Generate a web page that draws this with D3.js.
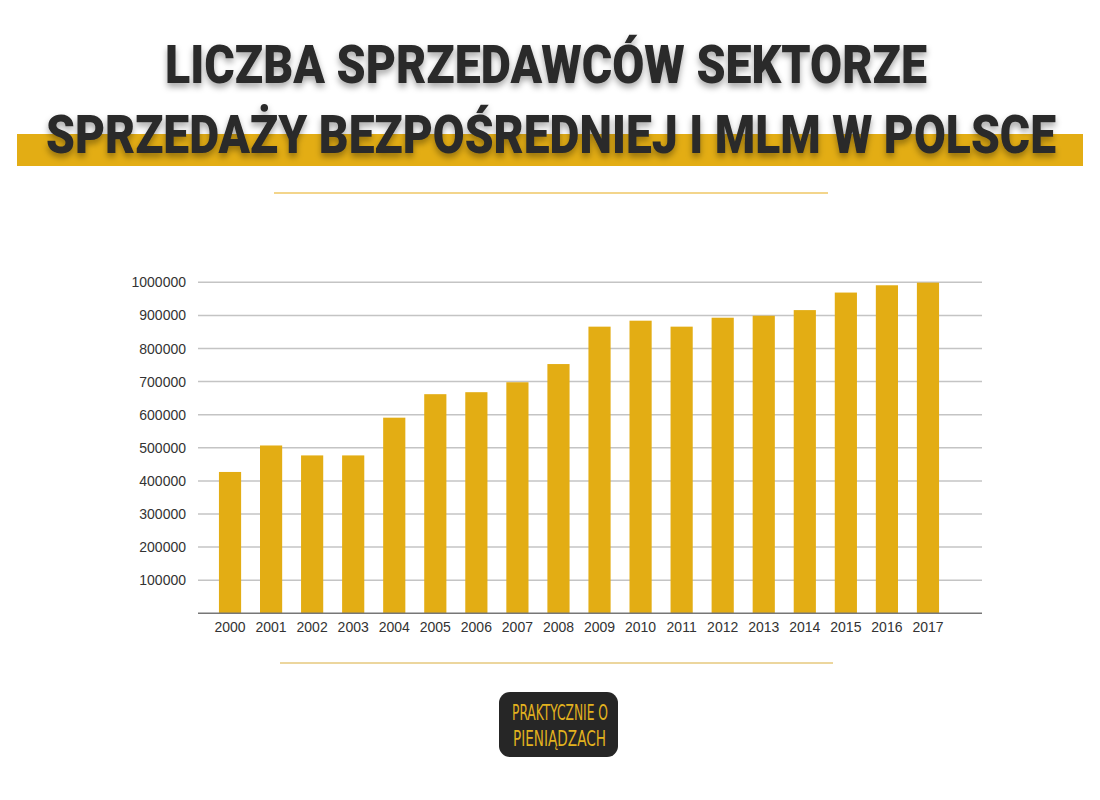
<!DOCTYPE html>
<html>
<head>
<meta charset="utf-8">
<script src="https://cdn.jsdelivr.net/npm/d3@7"></script>
<style>
  body { margin: 0; background: #fff; }
  svg { display: block; }
</style>
</head>
<body>
<div id="chart"></div>
<script>
const years = ['2000','2001','2002','2003','2004','2005','2006','2007','2008',
               '2009','2010','2011','2012','2013','2014','2015','2016','2017'];
const sellers = [427000, 507000, 477000, 477000, 591000, 662000, 668000, 698000, 753000,
                 866000, 884000, 866000, 893000, 899000, 916000, 969000, 991000, 999000];
const yTicks = [100000, 200000, 300000, 400000, 500000, 600000, 700000, 800000, 900000, 1000000];
const titleLines = ['LICZBA SPRZEDAWCÓW SEKTORZE', 'SPRZEDAŻY BEZPOŚREDNIEJ I MLM W POLSCE'];
const logoLines = ['PRAKTYCZNIE O', 'PIENIĄDZACH'];

const width = 1100, height = 800;
const gold = '#e3ad14';
const dark = '#2b2b2b';

const svg = d3.select('#chart').append('svg')
    .attr('width', width)
    .attr('height', height);

const defs = svg.append('defs');
const shadow = defs.append('filter')
    .attr('id', 'shadow')
    .attr('x', '-5%').attr('y', '-30%')
    .attr('width', '110%').attr('height', '170%');
shadow.append('feDropShadow')
    .attr('dx', 0).attr('dy', 4)
    .attr('stdDeviation', 3)
    .attr('flood-color', '#000')
    .attr('flood-opacity', 0.35);

// title band
svg.append('rect')
    .attr('x', 17).attr('y', 134)
    .attr('width', 1066).attr('height', 32)
    .attr('fill', gold);

const titleSpecs = [
    { x: 165, y: 83, w: 762 },
    { x: 46, y: 153, w: 1010 }
];
svg.selectAll('.title')
    .data(titleLines)
    .enter()
    .append('text')
    .attr('class', 'title')
    .attr('x', (d, i) => titleSpecs[i].x)
    .attr('y', (d, i) => titleSpecs[i].y)
    .attr('textLength', (d, i) => titleSpecs[i].w)
    .attr('lengthAdjust', 'spacingAndGlyphs')
    .attr('font-family', 'Roboto, "Liberation Sans", sans-serif')
    .attr('font-weight', 900)
    .attr('font-size', 54)
    .attr('fill', dark)
    .attr('filter', 'url(#shadow)')
    .text(d => d);

// separators
svg.append('line')
    .attr('x1', 274).attr('x2', 828)
    .attr('y1', 193).attr('y2', 193)
    .attr('stroke', '#efc765').attr('stroke-width', 1.5);

svg.append('line')
    .attr('x1', 280).attr('x2', 833)
    .attr('y1', 663).attr('y2', 663)
    .attr('stroke', '#d9ad3c').attr('stroke-width', 1);

// chart
const margin = { top: 282, right: 118, bottom: 187, left: 198 };
const plotRight = width - margin.right;

const xScale = d3.scaleBand()
    .domain(years)
    .range([209.5, 948.5])
    .paddingInner(0.46)
    .paddingOuter(0.23);

const yScale = d3.scaleLinear()
    .domain([0, 1000000])
    .range([613.3, 282.3]);

svg.append('g')
    .selectAll('line')
    .data(yTicks)
    .enter()
    .append('line')
    .attr('x1', margin.left)
    .attr('x2', plotRight)
    .attr('y1', d => yScale(d))
    .attr('y2', d => yScale(d))
    .attr('stroke', '#c4c4c4')
    .attr('stroke-width', 1.5);

svg.append('g')
    .selectAll('text')
    .data(yTicks)
    .enter()
    .append('text')
    .attr('x', 186)
    .attr('y', d => yScale(d) + 5)
    .attr('text-anchor', 'end')
    .attr('font-family', '"Liberation Sans", Arial, sans-serif')
    .attr('font-size', 14)
    .attr('fill', '#333')
    .text(d => d);

svg.append('g')
    .selectAll('rect')
    .data(sellers)
    .enter()
    .append('rect')
    .attr('x', (d, i) => xScale(years[i]))
    .attr('y', d => yScale(d))
    .attr('width', xScale.bandwidth())
    .attr('height', d => yScale(0) - yScale(d))
    .attr('fill', gold);

svg.append('line')
    .attr('x1', margin.left).attr('x2', plotRight)
    .attr('y1', yScale(0)).attr('y2', yScale(0))
    .attr('stroke', '#777')
    .attr('stroke-width', 1.5);

svg.append('g')
    .selectAll('text')
    .data(years)
    .enter()
    .append('text')
    .attr('x', d => xScale(d) + xScale.bandwidth() / 2)
    .attr('y', 632)
    .attr('text-anchor', 'middle')
    .attr('font-family', '"Liberation Sans", Arial, sans-serif')
    .attr('font-size', 14)
    .attr('fill', '#333')
    .text(d => d);

// logo
svg.append('rect')
    .attr('x', 499).attr('y', 692)
    .attr('width', 119).attr('height', 65)
    .attr('rx', 11)
    .attr('fill', '#262626');

const logoSpecs = [
    { x: 512, y: 720, w: 96 },
    { x: 513, y: 746, w: 93 }
];
svg.selectAll('.logo')
    .data(logoLines)
    .enter()
    .append('text')
    .attr('class', 'logo')
    .attr('x', (d, i) => logoSpecs[i].x)
    .attr('y', (d, i) => logoSpecs[i].y)
    .attr('textLength', (d, i) => logoSpecs[i].w)
    .attr('lengthAdjust', 'spacingAndGlyphs')
    .attr('font-family', '"Liberation Sans Narrow", "DejaVu Sans Condensed", sans-serif')
    .attr('font-weight', 400)
    .attr('font-size', 21)
    .attr('fill', '#e2b21e')
    .text(d => d);
</script>
</body>
</html>
